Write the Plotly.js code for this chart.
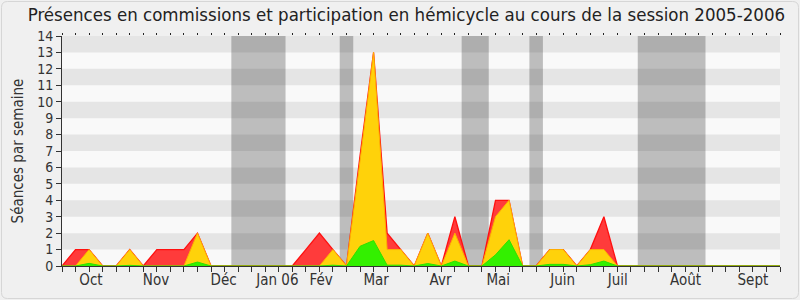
<!DOCTYPE html>
<html>
<head>
<meta charset="utf-8">
<script src="https://cdn.plot.ly/plotly-3.0.1.min.js"></script>
<style>html,body{margin:0;padding:0;background:#fff;}#chart{width:800px;height:300px;}</style>
</head>
<body>
<div id="chart"></div>
<script>
// Week index 0..53 (session 2005-2006)
var weeks = [];
for (var i = 0; i <= 53; i++) weeks.push(i);

// Red: total presence / participation per week
var redValues = [0,1,1,0,0,1,0,1,1,1,2,0,0,0,0,0,0,0,1,2,1,0,6.7,13,2,1,0,2,0,3,0,0,4,4,0,0,1,1,0,1,3,0,0,0,0,0,0,0,0,0,0,0,0,0];
// Yellow
var yellowValues = [0,0,1,0,0,1,0,0,0,0,2,0,0,0,0,0,0,0,0,0,1,0,6.4,13,1,1,0,2,0,2,0,0,3,4,0,0,1,1,0,1,1,0,0,0,0,0,0,0,0,0,0,0,0,0];
// Green
var greenValues = [0,0,0.16,0,0,0.04,0,0,0,0,0.24,0,0,0,0,0,0,0,0,0,0.05,0,1.2,1.55,0.05,0.05,0,0.15,0,0.3,0,0,0.68,1.6,0,0,0.1,0.1,0,0.08,0.3,0,0,0,0,0,0,0,0,0,0,0,0,0];

// Month labels (positions in week units)
var monthPos = [2.14, 6.94, 11.93, 15.9, 19.13, 23.19, 27.94, 32.2, 36.95, 41.03, 46.03, 51.0];
var monthText = ["Oct","Nov","Déc","Jan 06","Fév","Mar","Avr","Mai","Juin","Juil","Août","Sept"];

// Parliamentary breaks (week units)
var breakStart = [12.5, 20.5, 29.5, 34.5, 42.5];
var breakEnd   = [16.5, 21.5, 31.5, 35.5, 47.5];

var FONT = "DejaVu Sans Condensed, DejaVu Sans, sans-serif";

var traces = [
  {x: weeks, y: redValues, type: 'scatter', mode: 'lines', fill: 'tozeroy',
   fillcolor: '#ff3b3b', line: {color: '#ff1010', width: 1.3}, hoverinfo: 'skip'},
  {x: weeks, y: yellowValues, type: 'scatter', mode: 'lines', fill: 'tozeroy',
   fillcolor: '#ffd20a', line: {color: '#ffb000', width: 1}, hoverinfo: 'skip'},
  {x: weeks, y: greenValues, type: 'scatter', mode: 'lines', fill: 'tozeroy',
   fillcolor: '#33f000', line: {color: '#2ee000', width: 1}, hoverinfo: 'skip'},
  {x: [null], y: [null], xaxis: 'x2', yaxis: 'y', type: 'scatter', mode: 'lines', showlegend: false, hoverinfo: 'skip'}
];

var shapes = [];
// page frame with rounded corners (paper coords), outline only
var L = 62, R = 780, T = 36, B = 266;
function px(v){ return (v - L) / (R - L); }
function py(v){ return (B - v) / (B - T); }
var r = 6, x0 = 1.5, x1 = 798.5, y0 = 1.5, y1 = 298.5;
var path = 'M ' + px(x0 + r) + ' ' + py(y0) +
  ' L ' + px(x1 - r) + ' ' + py(y0) +
  ' Q ' + px(x1) + ' ' + py(y0) + ' ' + px(x1) + ' ' + py(y0 + r) +
  ' L ' + px(x1) + ' ' + py(y1 - r) +
  ' Q ' + px(x1) + ' ' + py(y1) + ' ' + px(x1 - r) + ' ' + py(y1) +
  ' L ' + px(x0 + r) + ' ' + py(y1) +
  ' Q ' + px(x0) + ' ' + py(y1) + ' ' + px(x0) + ' ' + py(y1 - r) +
  ' L ' + px(x0) + ' ' + py(y0 + r) +
  ' Q ' + px(x0) + ' ' + py(y0) + ' ' + px(x0 + r) + ' ' + py(y0) + ' Z';
shapes.push({type: 'path', path: path, xref: 'paper', yref: 'paper', layer: 'below',
  fillcolor: 'rgba(0,0,0,0)', line: {color: '#d6d6d6', width: 1}});
// horizontal stripes
for (var k = 1; k < 14; k += 2) {
  shapes.push({type: 'rect', xref: 'paper', yref: 'y', x0: 0, x1: 1, y0: k, y1: k + 1,
    fillcolor: '#e5e5e5', line: {width: 0}, layer: 'below'});
}
// breaks
for (var b = 0; b < breakStart.length; b++) {
  shapes.push({type: 'rect', xref: 'x', yref: 'y', x0: breakStart[b], x1: breakEnd[b], y0: 0, y1: 14,
    fillcolor: 'rgba(0,0,0,0.24)', line: {width: 0}, layer: 'below'});
}

var layout = {
  width: 800, height: 300,
  margin: {l: 62, r: 20, t: 36, b: 34, pad: 0},
  paper_bgcolor: '#f0f0f0',
  plot_bgcolor: '#f9f9f9',
  showlegend: false,
  font: {family: FONT, color: '#333333', size: 13},
  title: {text: 'Présences en commissions et participation en hémicycle au cours de la session 2005-2006',
    font: {family: FONT, size: 18.5, color: '#222222'}, x: 0.508, xanchor: 'center', y: 0.953, yanchor: 'middle'},
  xaxis: {
    range: [0, 53], tickmode: 'array', tickvals: monthPos, ticktext: monthText,
    ticks: '', showgrid: false, zeroline: false, showline: true, linecolor: '#333333', linewidth: 1,
    tickfont: {family: FONT, size: 15, color: '#333333'},
    minor: {tick0: 0, dtick: 1, ticks: 'outside', ticklen: 5, tickcolor: '#333333', tickwidth: 1, showgrid: false},
    fixedrange: true
  },
  xaxis2: {
    range: [0, 53], overlaying: 'x', side: 'top', tick0: 0, dtick: 1, ticks: 'outside', ticklen: 2,
    tickcolor: '#222222', showticklabels: false, showgrid: false, zeroline: false, showline: false
  },
  yaxis: {
    range: [0, 14], tick0: 0, dtick: 1, ticks: 'outside', ticklen: 5, tickcolor: '#333333',
    showgrid: false, zeroline: false, showline: true, linecolor: '#333333', linewidth: 1,
    tickfont: {family: FONT, size: 14, color: '#333333'},
    title: {text: 'Séances par semaine', font: {family: FONT, size: 15, color: '#333333'}, standoff: 9},
    fixedrange: true
  },
  shapes: shapes
};

Plotly.newPlot('chart', traces, layout, {staticPlot: true, displayModeBar: false});
</script>
</body>
</html>
